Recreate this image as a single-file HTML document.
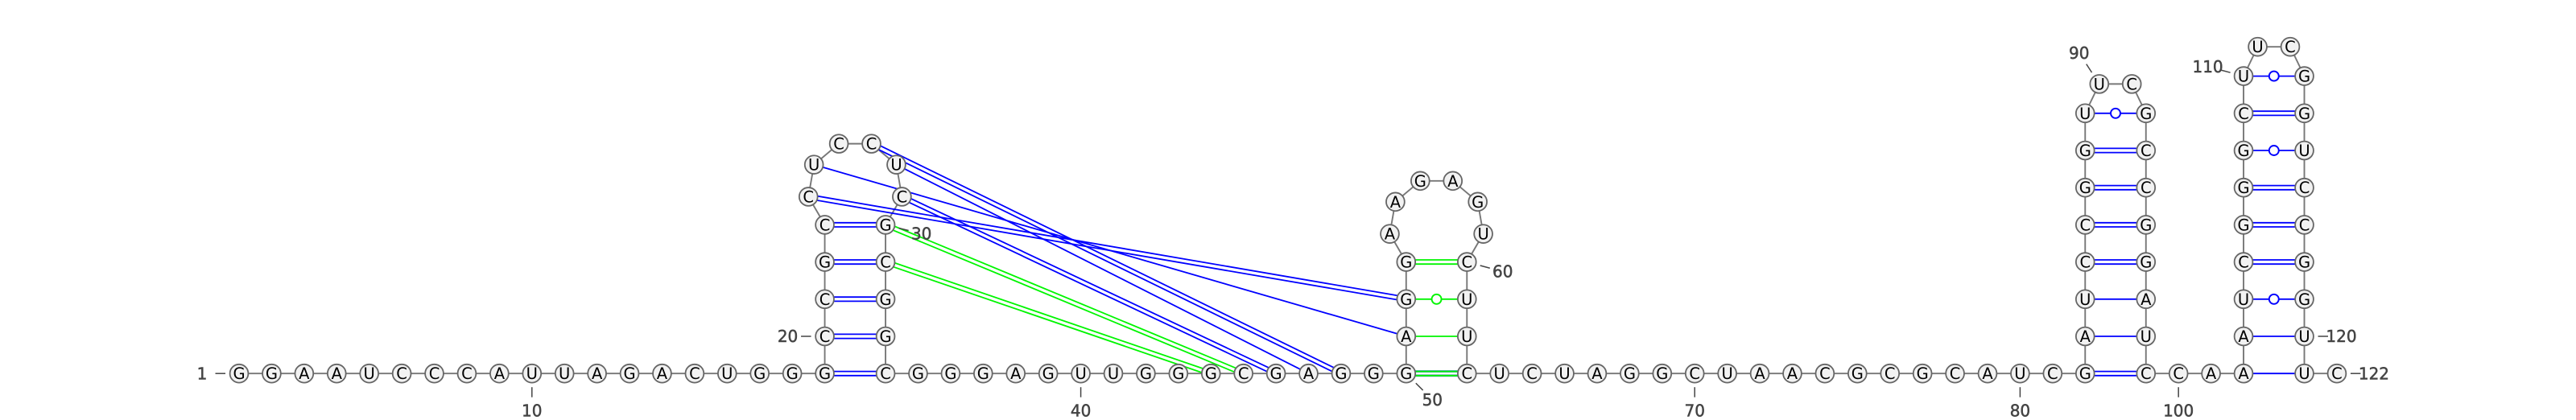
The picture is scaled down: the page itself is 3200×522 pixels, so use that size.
<!DOCTYPE html>
<html lang="en">
<head>
<meta charset="utf-8">
<title>RNA secondary structure</title>
<style>
html,body{margin:0;padding:0;background:#fff;width:3200px;height:522px;overflow:hidden}
svg{display:block}
.nt{font-family:"DejaVu Sans","Liberation Sans",sans-serif;font-size:19.5px;fill:#000;text-anchor:middle}
.lbl{font-family:"DejaVu Sans","Liberation Sans",sans-serif;font-size:20px;fill:#444;stroke:#444;stroke-width:.5px;text-anchor:middle}
</style>
</head>
<body>
<svg id="diagram" width="3200" height="522" viewBox="0 0 3200 522" xmlns="http://www.w3.org/2000/svg"></svg>
<script>
// Sequence, 5' to 3' (index 0 = nucleotide 1)
const nucleotides = [
  'G','G','A','A','U','C','C','C','A','U',
  'U','A','G','A','C','U','G','G','G','C',
  'C','G','C','C','U','C','C','U','C','G',
  'C','G','G','C','G','G','G','A','G','U',
  'U','G','G','G','C','G','A','G','G','G',
  'A','G','G','A','A','G','A','G','U','C',
  'U','U','C','U','C','U','A','G','G','C',
  'U','A','A','C','G','C','G','C','A','U',
  'C','G','A','U','C','C','G','G','U','U',
  'C','G','C','C','G','G','A','U','C','C',
  'A','A','A','U','C','G','G','G','C','U',
  'U','C','G','G','U','C','C','G','G','U',
  'U','C'
];
// Helices: [5' start, 3' end, number of stacked pairs]
const helices = [[19,34,5],[50,63,4],[82,99,8],[102,121,9]];
// Extra long-range pairings
const bluePseudoknotPairs = [[24,52],[25,51],[27,48],[28,47],[29,46]];
const greenPseudoknotPairs = [[30,45],[31,44]];
// Which helices are drawn green (others blue), by helix index
const greenHelices = [1];
// Blue pair lying underneath the green one
const underlayBluePairs = [[50,63]];
// Numbered positions
const tickPositions = [1,10,20,30,40,50,60,70,80,90,100,110,120,122];

const X0=297, Y0=464.2, STEP=40.42, WIDTH=75.5, ROW=46.2, R=11.4;
const BLUE='#0000ff', GREEN='#00f500';
const svg=document.getElementById('diagram');
const NS='http://www.w3.org/2000/svg';
const pos={};

function polygonRadius(n){
  let lo=WIDTH/2+1e-6, hi=1000;
  for(let i=0;i<80;i++){
    const r=(lo+hi)/2;
    const sum=n*2*Math.asin(STEP/(2*r))+2*Math.asin(WIDTH/(2*r));
    if(sum>2*Math.PI) lo=r; else hi=r;
  }
  return (lo+hi)/2;
}
function placeHelix(h,x){
  const start=h[0], end=h[1], rows=h[2];
  for(let k=0;k<rows;k++){
    pos[start+k]={x:x,y:Y0-k*ROW};
    pos[end-k]={x:x+WIDTH,y:Y0-k*ROW};
  }
  const a=start+rows-1, b=end-rows+1, chords=b-a;
  const yTop=Y0-(rows-1)*ROW;
  const r=polygonRadius(chords);
  const alpha=Math.asin(WIDTH/(2*r)), beta=2*Math.asin(STEP/(2*r));
  const cx=x+WIDTH/2, cy=yTop-Math.sqrt(r*r-WIDTH*WIDTH/4);
  for(let n=a+1;n<b;n++){
    const phi=-alpha-(n-a)*beta;
    pos[n]={x:cx+r*Math.sin(phi),y:cy+r*Math.cos(phi)};
  }
}
function layout(){
  let x=X0, n=1;
  while(n<=nucleotides.length){
    const h=helices.find(function(v){return v[0]===n;});
    if(h){
      placeHelix(h,x);
      x+=WIDTH;
      n=h[1];
      pos[n]={x:x,y:Y0};
    }else{
      pos[n]={x:x,y:Y0};
    }
    x+=STEP;
    n++;
  }
}
layout();

function mk(tag,attrs,parent){
  const el=document.createElementNS(NS,tag);
  for(const k in attrs) el.setAttribute(k,attrs[k]);
  (parent||svg).appendChild(el);
  return el;
}
const gBackbone=mk('g',{});


const gPairs=mk('g',{});


const gNodes=mk('g',{});


const gTicks=mk('g',{});



function segment(a,b,off,color,w,parent){
  const dx=b.x-a.x, dy=b.y-a.y, len=Math.hypot(dx,dy);
  const ox=-dy/len*off, oy=dx/len*off;
  return mk('line',{x1:a.x+ox,y1:a.y+oy,x2:b.x+ox,y2:b.y+oy,stroke:color,'stroke-width':w},parent);
}
function drawPair(i,j,color,width){
  const a=pos[i], b=pos[j];
  const pairLetters=[nucleotides[i-1],nucleotides[j-1]].sort().join('');
  const g=mk('g',{},gPairs);
  
  
  const w=width||1.8;
  if(pairLetters==='CG'){
    segment(a,b,-2.6,color,w,g);
    segment(a,b,2.6,color,w,g);
  }else{
    segment(a,b,0,color,w,g);
    if(pairLetters==='GU'){
      mk('circle',{cx:(a.x+b.x)/2,cy:(a.y+b.y)/2,r:6,fill:'#fff',stroke:color,'stroke-width':1.9},g);
    }
  }
}

// backbone
for(let n=1;n<nucleotides.length;n++){
  const seg=segment(pos[n],pos[n+1],0,'#777',1.9,gBackbone);
  
  
}

// pseudoknots go below, helices above
bluePseudoknotPairs.forEach(function(p){drawPair(p[0],p[1],BLUE);});
greenPseudoknotPairs.forEach(function(p){drawPair(p[0],p[1],GREEN);});
underlayBluePairs.forEach(function(p){drawPair(p[0],p[1],'#3070c0',2.6);});
helices.forEach(function(h,idx){
  const color=greenHelices.indexOf(idx)>=0?GREEN:BLUE;
  for(let k=0;k<h[2];k++) drawPair(h[0]+k,h[1]-k,color);
});

// nucleotide circles
nucleotides.forEach(function(letter,idx){
  const p=pos[idx+1];
  const g=mk('g',{},gNodes);
  
  
  mk('circle',{cx:p.x,cy:p.y,r:R,fill:'#f2f2f2',stroke:'#666','stroke-width':1.8},g);
  const t=mk('text',{x:p.x,y:p.y+7,class:'nt'},g);
  t.textContent=letter;
});

// direction (degrees, svg clockwise from +x) of the number tick for a position
function tickAngle(n){
  const p=pos[n];
  if(n===1||n===20) return 180;
  if(n===30) return 14;
  if(n===50) return 45;
  if(n===60) return 15;
  if(n===90) return 237;
  if(n===110) return 195;
  if(n===120||n===122) return 0;
  return p.y>=Y0-1?90:0;
}
tickPositions.forEach(function(n){
  const p=pos[n], a=tickAngle(n)*Math.PI/180, c=Math.cos(a), s=Math.sin(a);
  const tick=mk('line',{x1:p.x+17*c,y1:p.y+17*s,x2:p.x+29.5*c,y2:p.y+29.5*s,stroke:'#444','stroke-width':1.5},gTicks);
  
  
  const t=mk('text',{x:p.x+46*c,y:p.y+46*s+7.2,class:'lbl'},gTicks);
  
  
  t.textContent=String(n);
});
</script>
</body>
</html>
